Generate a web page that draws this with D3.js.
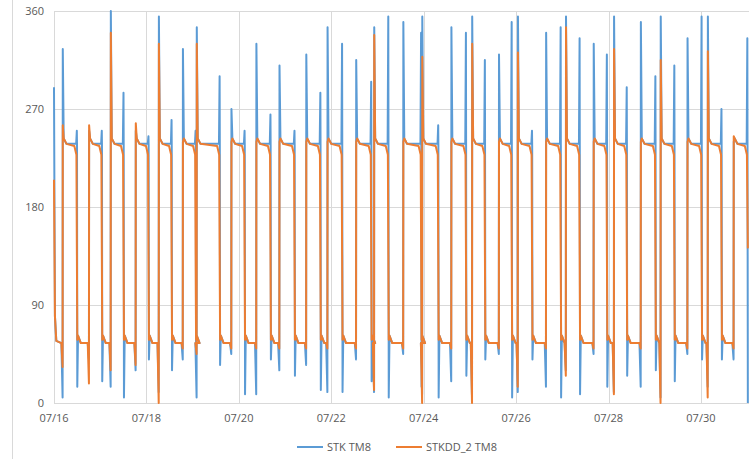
<!DOCTYPE html>
<meta charset="utf-8">
<script src="https://d3js.org/d3.v7.min.js"></script>
<style>body{margin:0;background:#fff}</style>
<div id="chart"></div>
<script>
// days since 07/16 00:00
var xTickDays = [0, 2, 4, 6, 8, 10, 12, 14];
var xTickLabels = ["07/16", "07/18", "07/20", "07/22", "07/24", "07/26", "07/28", "07/30"];
var yTicks = [0, 90, 180, 270, 360];

// orange cycles: [up time, down time, dip before up, spike after up]
var orangeCycles = [
  [0.19,0.50,33,255],[0.76,1.04,18,255],[1.23,1.51,30,340],[1.77,2.05,35,257],
  [2.27,2.55,0,330],[2.79,3.07,50,240],[3.09,3.59,45,330],[3.84,4.13,50,240],
  [4.38,4.69,50,240],[4.88,5.21,50,240],[5.46,5.77,50,240],[5.92,6.24,50,240],
  [6.54,6.87,50,240],[6.93,7.24,12,338],[7.56,7.95,50,240],[7.97,8.32,0,318],
  [8.60,8.92,50,240],[9.05,9.33,0,330],[9.63,9.91,50,240],[10.04,10.35,15,322],
  [10.65,10.97,50,240],[11.08,11.38,25,345],[11.68,11.97,50,240],[12.12,12.40,8,325],
  [12.70,13.02,50,240],[13.13,13.43,0,315],[13.71,14.02,50,240],[14.15,14.45,5,323],
  [14.71,15.01,50,245]
];
var orangeStart = 205, orangeEnd = 142;

// blue extremes per cycle: [dip before up, spike after up, spike before down, dip after down]
var blueExtremes = [
  [5,325,250,15],[40,250,250,20],[15,360,285,5],[30,250,245,40],
  [10,355,260,30],[40,325,250,35],[5,345,300,35],[45,270,250,8],
  [8,330,265,40],[30,310,250,25],[35,320,285,12],[10,345,330,10],
  [40,315,295,20],[10,345,355,5],[45,350,340,15],[8,355,255,5],
  [20,345,340,25],[5,355,315,40],[45,320,350,5],[10,355,250,40],
  [15,340,345,5],[30,355,335,8],[45,330,320,15],[10,355,290,25],
  [15,350,300,30],[5,355,310,20],[45,335,355,40],[15,355,270,40],
  [40,240,335,0]
];
var blueStart = 290, blueEnd = 0;

function buildSeries(start, end, cycles, ext) {
  var pts = [[0, start], [0.02, 80], [0.05, 57]];
  cycles.forEach(function(c, i) {
    var u = c[0], d = c[1];
    var e = ext ? ext[i] : null;
    var last = i === cycles.length - 1;
    pts.push([u - 0.03, 55]);
    pts.push([u - 0.004, e ? e[0] : c[2]]);
    pts.push([u, e ? e[1] : c[3]]);
    pts.push([u + 0.02, 243]);
    pts.push([u + 0.08, 238]);
    if (e) { pts.push([d - 0.02, 238]); pts.push([d - 0.006, e[2]]); pts.push([d - 0.002, 236]); }
    else { pts.push([d - 0.06, 236]); pts.push([d - 0.015, 228]); }
    if (last) { pts.push([d + 0.005, end]); return; }
    pts.push([d + 0.004, e ? e[3] : 58]);
    pts.push([d + 0.02, 62]);
    pts.push([d + 0.08, 55]);
  });
  return pts;
}

var margin = {top: 11, left: 54, right: 5, bottom: 56},
    W = 754, H = 459,
    width = W - margin.left - margin.right,
    height = H - margin.top - margin.bottom;

var svg = d3.select("#chart").append("svg").attr("width", W).attr("height", H)
  .style("font-family", "'Open Sans', 'Liberation Sans', sans-serif");

svg.append("line").attr("x1", 12.5).attr("x2", 12.5).attr("y1", 0).attr("y2", H).attr("stroke", "#d9d9d9");

var g = svg.append("g").attr("transform", "translate(" + margin.left + "," + margin.top + ")");

var x = d3.scaleLinear().domain([0, 15.04]).range([0, width]);
var y = d3.scaleLinear().domain([0, 360]).range([height, 0]);

g.selectAll(".hg").data(yTicks).enter().append("line")
  .attr("x1", 0).attr("x2", width).attr("y1", d => y(d) + 0.5).attr("y2", d => y(d) + 0.5)
  .attr("stroke", "#d9d9d9");
g.selectAll(".vg").data(xTickDays).enter().append("line")
  .attr("y1", 0).attr("y2", height).attr("x1", d => Math.round(x(d)) + 0.5).attr("x2", d => Math.round(x(d)) + 0.5)
  .attr("stroke", "#d9d9d9");

g.selectAll(".yl").data(yTicks).enter().append("text")
  .attr("x", -10).attr("y", d => y(d) + 4).attr("text-anchor", "end")
  .attr("font-size", 11).attr("fill", "#595959").text(d => d);
g.selectAll(".xl").data(xTickDays).enter().append("text")
  .attr("x", d => x(d)).attr("y", height + 19).attr("text-anchor", "middle")
  .attr("font-size", 11).attr("fill", "#595959").text((d, i) => xTickLabels[i]);

var line = d3.line().x(d => x(d[0])).y(d => y(d[1]));
var blue = buildSeries(blueStart, blueEnd, orangeCycles, blueExtremes);
var orange = buildSeries(orangeStart, orangeEnd, orangeCycles, null);

g.append("path").datum(blue).attr("d", line).attr("fill", "none")
  .attr("stroke", "#5b9bd5").attr("stroke-width", 2).attr("stroke-linejoin", "round");
g.append("path").datum(orange).attr("d", line).attr("fill", "none")
  .attr("stroke", "#ed7d31").attr("stroke-width", 2).attr("stroke-linejoin", "round");

var legend = [["STK TM8", "#5b9bd5", 297], ["STKDD_2 TM8", "#ed7d31", 396]];
legend.forEach(function(l) {
  svg.append("line").attr("x1", l[2]).attr("x2", l[2] + 26).attr("y1", 447).attr("y2", 447)
    .attr("stroke", l[1]).attr("stroke-width", 2);
  svg.append("text").attr("x", l[2] + 30).attr("y", 451).attr("font-size", 11)
    .attr("fill", "#595959").text(l[0]);
});
</script>
